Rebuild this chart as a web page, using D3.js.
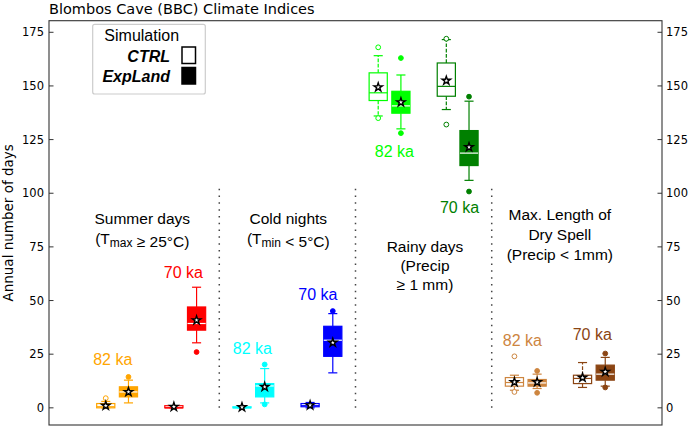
<!DOCTYPE html>
<html>
<head>
<meta charset="utf-8">
<script src="https://d3js.org/d3.v7.min.js"></script>
<style>
  body{margin:0;background:#fff;}
  svg{display:block;}
  text{font-family:"Liberation Sans",Arial,sans-serif;}
  .mpl{font-family:"DejaVu Sans",sans-serif;}
</style>
</head>
<body>
<svg id="chart" width="692" height="430"></svg>
<script>
// ---- data ----
const indices = ["Summer days", "Cold nights", "Rainy days", "Max. Length of Dry Spell"];
const periods = ["82 ka", "70 ka"];
const sims = ["CTRL", "ExpLand"];
// each row: [whiskerLow, q1, median, q3, whiskerHigh, mean]
// row order: CTRL 82 ka, ExpLand 82 ka, CTRL 70 ka, ExpLand 70 ka
const summerStats = [
  [0, 0, 0.5, 2, 3, 1],
  [2.3, 5.1, 7.4, 9.8, 12.9, 7.4],
  [0, 0, 0, 1, 1, 0.5],
  [30.3, 36.2, 39.3, 47, 56.2, 40.8]
];
const summerFliers = [[4.5], [14.4], [], [26]];
const coldStats = [
  [0, 0, 0, 0.5, 1, 0.3],
  [2.3, 5.1, 10.2, 11.3, 18.3, 9.8],
  [0, 0.5, 1, 2, 2.5, 1.2],
  [16.3, 24, 31.5, 38, 43.9, 30.4]
];
const coldFliers = [[], [1.6, 20.2], [], [45.1]];
const rainyStats = [
  [136, 143.2, 146.8, 156.1, 164.1, 149.4],
  [130, 137.3, 140.7, 147.5, 155.1, 142.4],
  [139, 145.2, 149.8, 160.7, 171.6, 152.5],
  [106, 112.9, 118.7, 129.2, 142.9, 121.5]
];
const rainyFliers = [[135, 168], [128, 163], [132, 172], [100.8, 145]];
const drySpellStats = [
  [8.2, 10.1, 11.8, 14.1, 15.2, 12],
  [9, 10.1, 11.6, 13.2, 15.7, 12],
  [9.5, 11.3, 13.7, 15.2, 21.1, 14.1],
  [10.1, 12.9, 15.7, 19.9, 23.5, 16.8]
];
const drySpellFliers = [[7.4, 24], [7, 17.2], [], [9.5, 25.3]];
const yTicks = [0, 25, 50, 75, 100, 125, 150, 175];

const allStats = [summerStats, coldStats, rainyStats, drySpellStats];
const allFliers = [summerFliers, coldFliers, rainyFliers, drySpellFliers];

// ---- styling / layout ----
const palette = [["#ffa500", "#ff0000"], ["#00ffff", "#0000ff"], ["#00ff00", "#008000"], ["#cd853f", "#8b4513"]];
const slot = [0, 1, 3, 4];
// period label anchors [x (position units), y (days)]
const periodLabelAt = [
  [[1.31, 19.9], [4.42, 60.7]],
  [[7.46, 25.3], [10.34, 50.4]],
  [[13.71, 117.1], [16.58, 90.8]],
  [[19.35, 28.9], [22.43, 31.8]]
];
const svg = d3.select("#chart");
const x = d3.scaleLinear().domain([-1.5, 25.5]).range([49, 662]);
const y = d3.scaleLinear().domain([-8, 180.4]).range([425, 20.7]);
const bw = x(0.8) - x(0), cw = x(0.4) - x(0);

// dotted separators
[6, 12, 18].forEach(p => {
  svg.append("line")
    .attr("x1", x(p)).attr("x2", x(p))
    .attr("y1", y(0)).attr("y2", y(104))
    .attr("stroke", "#444").attr("stroke-width", 1.5)
    .attr("stroke-dasharray", "1.5,5.3");
});

// boxes
allStats.forEach((stats, g) => {
  stats.forEach((s, k) => {
    const [lo, q1, med, q3, hi, mean] = s;
    const isExp = k % 2 === 1;
    const col = palette[g][Math.floor(k / 2)];
    const cx = x(1 + 6 * g + slot[k]);
    const b = svg.append("g");
    const dash = isExp ? null : "3.7,1.6";
    b.append("line").attr("x1", cx).attr("x2", cx).attr("y1", y(q3)).attr("y2", y(hi))
      .attr("stroke", col).attr("stroke-width", 1.2).attr("stroke-dasharray", dash);
    b.append("line").attr("x1", cx).attr("x2", cx).attr("y1", y(q1)).attr("y2", y(lo))
      .attr("stroke", col).attr("stroke-width", 1.2).attr("stroke-dasharray", dash);
    [lo, hi].forEach(v => {
      b.append("line").attr("x1", cx - cw / 2).attr("x2", cx + cw / 2)
        .attr("y1", y(v)).attr("y2", y(v)).attr("stroke", col).attr("stroke-width", 1.2);
    });
    b.append("rect").attr("x", cx - bw / 2).attr("width", bw)
      .attr("y", y(q3)).attr("height", Math.max(0, y(q1) - y(q3)))
      .attr("fill", isExp ? col : "#fff").attr("stroke", col).attr("stroke-width", 1.2);
    b.append("line").attr("x1", cx - bw / 2).attr("x2", cx + bw / 2)
      .attr("y1", y(med)).attr("y2", y(med))
      .attr("stroke", isExp ? "#fff" : col).attr("stroke-width", 1.2);
    allFliers[g][k].forEach(f => {
      b.append("circle").attr("cx", cx).attr("cy", y(f)).attr("r", 2.4)
        .attr("fill", isExp ? col : "#fff").attr("stroke", col).attr("stroke-width", 1);
    });
    b.append("path").attr("d", d3.symbol(d3.symbolStar, 22)())
      .attr("transform", `translate(${cx},${y(mean)})`)
      .attr("fill", "#fff").attr("stroke", "#000").attr("stroke-width", 1.4);
  });
});

// period labels
periodLabelAt.forEach((pair, g) => {
  pair.forEach((p, i) => {
    svg.append("text").attr("x", x(p[0])).attr("y", y(p[1]))
      .attr("text-anchor", "middle").attr("font-size", 16)
      .attr("fill", palette[g][i]).text(periods[i]);
  });
});

// index labels
function label(cxPos, baseVal, lines) {
  const t = svg.append("text").attr("text-anchor", "middle").attr("font-size", 15.5).attr("fill", "#000");
  lines.forEach((ln, i) => {
    const row = t.append("tspan").attr("x", x(cxPos)).attr("y", y(baseVal[i]));
    ln.forEach(part => {
      if (typeof part === "string") row.append("tspan").text(part);
      else row.append("tspan").attr("font-size", 12).attr("dy", 3).text(part.sub)
        .clone().attr("font-size", 15.5).attr("dy", -3).text("");
    });
  });
}
label(2.61, [85.8, 76.5], [[indices[0]], ["(T", {sub: "max"}, " \u2265 25\u00b0C)"]]);
label(9.04, [85.8, 76.5], [[indices[1]], ["(T", {sub: "min"}, " < 5\u00b0C)"]]);
label(15.06, [72.6, 63.8, 54.8], [[indices[2]], ["(Precip"], ["\u2265 1 mm)"]]);
label(21.0, [87.3, 78.0, 68.7], [["Max. Length of"], ["Dry Spell"], ["(Precip < 1mm)"]]);

// axes
const frame = svg.append("g");
frame.append("rect").attr("x", x(-1.5)).attr("y", y(180.4))
  .attr("width", x(25.5) - x(-1.5)).attr("height", y(-8) - y(180.4))
  .attr("fill", "none").attr("stroke", "#333").attr("stroke-width", 1.1);
yTicks.forEach(v => {
  frame.append("line").attr("x1", x(-1.5)).attr("x2", x(-1.5) + 4.5)
    .attr("y1", y(v)).attr("y2", y(v)).attr("stroke", "#333");
  frame.append("line").attr("x1", x(25.5) - 4.5).attr("x2", x(25.5))
    .attr("y1", y(v)).attr("y2", y(v)).attr("stroke", "#333");
  frame.append("text").attr("class", "mpl").attr("x", x(-1.5) - 5).attr("y", y(v))
    .attr("dy", "0.36em").attr("text-anchor", "end").attr("font-size", 11.5).text(v);
  frame.append("text").attr("class", "mpl").attr("x", x(25.5) + 4).attr("y", y(v))
    .attr("dy", "0.36em").attr("text-anchor", "start").attr("font-size", 11.5).text(v);
});
svg.append("text").attr("class", "mpl")
  .attr("transform", `translate(13,${(y(-8) + y(180.4)) / 2}) rotate(-90)`)
  .attr("text-anchor", "middle").attr("font-size", 13.5).text("Annual number of days");
svg.append("text").attr("class", "mpl").attr("x", 49).attr("y", 14)
  .attr("font-size", 14.5).text("Blombos Cave (BBC) Climate Indices");

// legend
const lg = svg.append("g");
lg.append("rect").attr("x", 92.7).attr("y", 24.3).attr("width", 112.6).attr("height", 69.7)
  .attr("rx", 2).attr("fill", "#fff").attr("stroke", "#ccc").attr("stroke-width", 1.2);
lg.append("text").attr("x", 141.7).attr("y", 40.5).attr("text-anchor", "middle")
  .attr("font-size", 16).text("Simulation");
sims.forEach((s, i) => {
  lg.append("text").attr("x", 170).attr("y", 62 + 20 * i).attr("text-anchor", "end")
    .attr("font-size", 16).attr("font-weight", "bold").attr("font-style", "italic").text(s);
  lg.append("rect").attr("x", 182).attr("y", 47 + 20.5 * i).attr("width", 13.5).attr("height", 16.5)
    .attr("fill", i ? "#000" : "#fff").attr("stroke", "#000").attr("stroke-width", 1.5);
});
</script>
</body>
</html>
